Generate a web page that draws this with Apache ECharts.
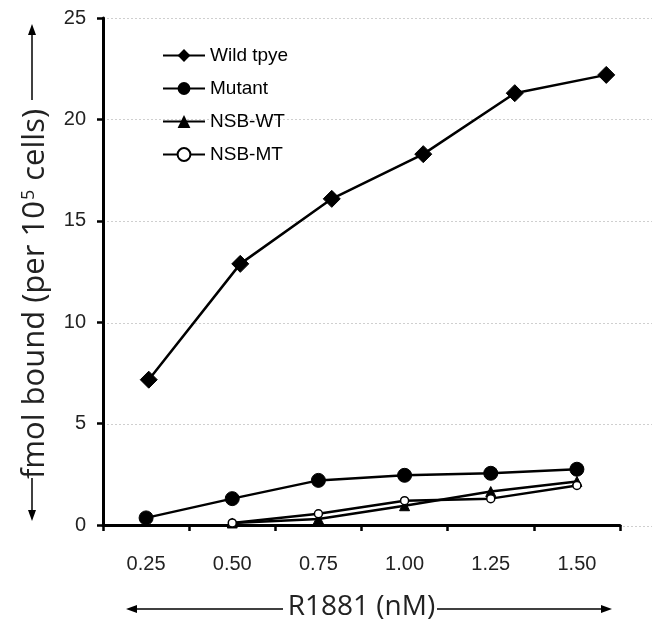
<!DOCTYPE html>
<html>
<head>
<meta charset="utf-8">
<script src="https://cdn.jsdelivr.net/npm/echarts@6/dist/echarts.min.js"></script>
<style>html,body{margin:0;padding:0;background:#fff}#c{width:654px;height:626px}</style>
</head>
<body>
<div id="c"></div>
<script>
const categories = ['0.25', '0.50', '0.75', '1.00', '1.25', '1.50'];
const wildType = [7.2, 12.9, 16.1, 18.3, 21.3, 22.2];
const mutant = [0.35, 1.3, 2.2, 2.45, 2.55, 2.75];
const nsbWT = [null, 0.1, 0.3, 0.95, 1.65, 2.15];
const nsbMT = [null, 0.1, 0.55, 1.2, 1.3, 1.95];
const yTicks = { min: 0, max: 25, interval: 5 };

const chart = echarts.init(document.getElementById('c'));
const font = '"Liberation Sans", Arial, sans-serif';
const titleFont = '"Open Sans", sans-serif';
const lineStyle = { color: '#000', width: 2.5 };

chart.setOption({
  animation: false,
  backgroundColor: '#fff',
  grid: [
    { left: 103, right: 34, top: 18, bottom: 100 },
    { left: 103, right: 2, top: 18, bottom: 100 }
  ],
  legend: {
    orient: 'vertical', left: 157, top: 41,
    itemWidth: 42, itemHeight: 16, itemGap: 14,
    textStyle: { fontFamily: font, fontSize: 19, color: '#000' },
    data: ['Wild tpye', 'Mutant', 'NSB-WT', 'NSB-MT']
  },
  xAxis: [
    {
      type: 'category', gridIndex: 0, data: categories, boundaryGap: true,
      axisLine: { lineStyle: { color: '#000', width: 3 } },
      axisTick: { show: true, length: 6, lineStyle: { color: '#000', width: 2.5 } },
      axisLabel: { fontFamily: font, fontSize: 20, color: '#222', margin: 29 },
      name: 'R1881 (nM)', nameLocation: 'middle', nameGap: 68,
      nameTextStyle: { fontFamily: titleFont, fontSize: 28, color: '#222' }
    },
    {
      type: 'category', gridIndex: 1, data: categories, boundaryGap: true, show: false
    }
  ],
  yAxis: [
    {
      type: 'value', gridIndex: 0, min: yTicks.min, max: yTicks.max, interval: yTicks.interval,
      axisLine: { show: true, lineStyle: { color: '#000', width: 3 } },
      axisTick: { show: true, length: 6, lineStyle: { color: '#000', width: 2.5 } },
      axisLabel: { fontFamily: font, fontSize: 20, color: '#222', margin: 17 },
      splitLine: { show: false }
    },
    {
      type: 'value', gridIndex: 1, min: yTicks.min, max: yTicks.max, interval: yTicks.interval,
      axisLine: { show: false }, axisTick: { show: false }, axisLabel: { show: false },
      splitLine: { show: true, lineStyle: { color: '#cfcfcf', width: 1, type: [2, 2] } }
    }
  ],
  series: [
    {
      name: 'Wild tpye', type: 'line', xAxisIndex: 1, yAxisIndex: 1, data: wildType,
      symbol: 'diamond', symbolSize: 17, lineStyle: lineStyle,
      itemStyle: { color: '#000', borderColor: '#000' }, z: 5
    },
    {
      name: 'Mutant', type: 'line', xAxisIndex: 0, yAxisIndex: 0, data: mutant,
      symbol: 'circle', symbolSize: 14, lineStyle: lineStyle,
      itemStyle: { color: '#000', borderColor: '#000' }, z: 4
    },
    {
      name: 'NSB-WT', type: 'line', xAxisIndex: 0, yAxisIndex: 0, data: nsbWT,
      symbol: 'triangle', symbolSize: 10, lineStyle: lineStyle,
      itemStyle: { color: '#000', borderColor: '#000' }, z: 3
    },
    {
      name: 'NSB-MT', type: 'line', xAxisIndex: 0, yAxisIndex: 0, data: nsbMT,
      symbol: 'circle', symbolSize: 8, showAllSymbol: true, lineStyle: lineStyle,
      itemStyle: { color: '#fff', borderColor: '#000', borderWidth: 1.5 }, z: 6
    }
  ],
  graphic: [
    {
      type: 'text', x: 35, y: 294, rotation: Math.PI / 2,
      style: {
        text: 'fmol bound (per 10{sup|5} cells)',
        fill: '#222', font: '31px "Open Sans", sans-serif',
        align: 'center', verticalAlign: 'middle',
        rich: { sup: { fontSize: 18, verticalAlign: 'top', padding: [0, 1, 12, 1], fontFamily: titleFont, fill: '#222' } }
      }
    },
    { type: 'line', shape: { x1: 32, y1: 30, x2: 32, y2: 100 }, style: { stroke: '#000', lineWidth: 1.5 } },
    { type: 'polygon', shape: { points: [[32, 24], [28, 35], [36, 35]] }, style: { fill: '#000' } },
    { type: 'line', shape: { x1: 32, y1: 478, x2: 32, y2: 514 }, style: { stroke: '#000', lineWidth: 1.5 } },
    { type: 'polygon', shape: { points: [[32, 521], [28, 510], [36, 510]] }, style: { fill: '#000' } },
    { type: 'line', shape: { x1: 132, y1: 609, x2: 283, y2: 609 }, style: { stroke: '#000', lineWidth: 1.5 } },
    { type: 'polygon', shape: { points: [[126, 609], [137, 605], [137, 613]] }, style: { fill: '#000' } },
    { type: 'line', shape: { x1: 437, y1: 609, x2: 606, y2: 609 }, style: { stroke: '#000', lineWidth: 1.5 } },
    { type: 'polygon', shape: { points: [[612, 609], [601, 605], [601, 613]] }, style: { fill: '#000' } }
  ]
});
</script>
</body>
</html>
